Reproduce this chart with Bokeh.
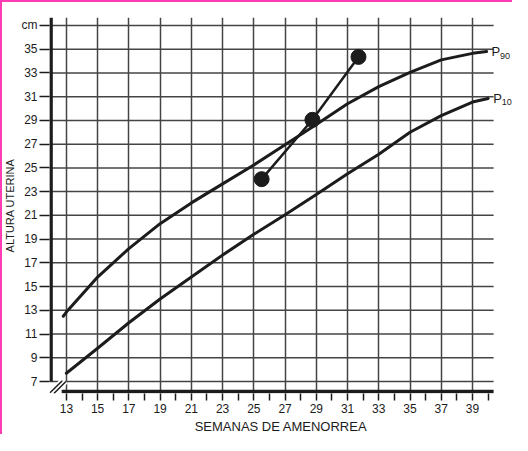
from bokeh.plotting import figure
from bokeh.models import FixedTicker, Range1d, Label, Title
from bokeh.embed import file_html
from bokeh.resources import INLINE

# ---- data ----
p90_weeks = [12.8, 13, 15, 17, 19, 21, 23, 25, 27, 29, 31, 33, 35, 37, 39, 39.9]
p90_cm = [12.5, 12.85, 15.8, 18.2, 20.3, 22.05, 23.65, 25.25, 26.95, 28.65, 30.4, 31.85, 33.05, 34.1, 34.65, 34.8]

p10_weeks = [13, 15, 17, 19, 21, 23, 25, 27, 29, 31, 33, 35, 37, 39, 40]
p10_cm = [7.7, 9.8, 11.95, 13.95, 15.8, 17.65, 19.4, 21.05, 22.75, 24.5, 26.15, 28.0, 29.4, 30.55, 30.85]

patient_weeks = [25.5, 28.75, 31.7]
patient_cm = [24.05, 29.05, 34.35]

x_ticks = list(range(13, 40, 2))
x_minor = list(range(14, 41, 2))
y_ticks = list(range(7, 38, 2))
y_overrides = {37: "cm"}

FONT = "Liberation Sans"
INK = "#1c1c1c"
GRID = "#444444"

x_range = Range1d(11.919, 41.56)
y_range = Range1d(5.99, 37.67)
grid_end = 40.35

p = figure(width=512, height=434, x_range=x_range, y_range=y_range,
           output_backend="svg", toolbar_location=None,
           min_border_left=46, min_border_right=0, min_border_top=17, min_border_bottom=40)
p.outline_line_color = None
p.background_fill_color = "white"
p.border_fill_color = None
# pink frame of the original figure (left and top edges)
p.styles = {"box-shadow": "inset 2px 2px 0 0 #ff3cb4", "background-color": "white"}

# axes
xa = p.xaxis[0]
xa.ticker = FixedTicker(ticks=x_ticks, minor_ticks=x_minor)
xa.axis_line_color = None
xa.major_tick_in = 0
xa.major_tick_out = 7
xa.minor_tick_in = 0
xa.minor_tick_out = 7
xa.major_tick_line_color = INK
xa.minor_tick_line_color = INK
xa.major_tick_line_width = 1.5
xa.minor_tick_line_width = 1.5
xa.major_label_text_font = FONT
xa.major_label_text_font_size = "12px"
xa.major_label_text_color = INK
xa.major_label_standoff = 3

p.add_layout(Title(text="SEMANAS DE AMENORREA", align="center", offset=-17, standoff=2,
                   text_font=FONT, text_font_size="13px", text_font_style="normal",
                   text_color=INK), "below")

ya = p.yaxis[0]
ya.ticker = FixedTicker(ticks=y_ticks, minor_ticks=[])
ya.major_label_overrides = y_overrides
ya.axis_line_color = None
ya.major_tick_in = 0
ya.major_tick_out = 10
ya.major_tick_line_color = INK
ya.major_tick_line_width = 1.5
ya.major_label_text_font = FONT
ya.major_label_text_font_size = "12px"
ya.major_label_text_color = INK
ya.major_label_standoff = 2
ya.axis_label = "ALTURA UTERINA"
ya.axis_label_text_font = FONT
ya.axis_label_text_font_size = "11px"
ya.axis_label_text_font_style = "normal"
ya.axis_label_text_color = INK
ya.axis_label_standoff = 3

p.xgrid[0].grid_line_color = GRID
p.xgrid[0].grid_line_width = 1.5
p.ygrid[0].grid_line_color = None

# horizontal grid lines, stopping at the end of the week scale
n = len(y_ticks)
p.segment(x0=[x_range.start] * n, y0=y_ticks, x1=[grid_end] * n, y1=y_ticks,
          line_width=1.5, line_color=GRID)

# thick axis lines (drawn inside the frame)
axis_x = x_range.start + 0.1
axis_y = y_range.start + 0.17
p.segment(x0=[axis_x], y0=[y_ticks[0]], x1=[axis_x], y1=[y_range.end], line_width=3.5, line_color=INK)
p.segment(x0=[12.7], y0=[axis_y], x1=[grid_end], y1=[axis_y], line_width=3.5, line_color=INK)

# axis break marks
p.segment(x0=[11.95, 12.2], y0=[6.05, 5.99], x1=[12.72, 12.97], y1=[7.05, 7.0], line_width=5, line_color="white")
p.segment(x0=[11.95, 12.2], y0=[6.05, 5.99], x1=[12.72, 12.97], y1=[7.05, 7.0], line_width=1.5, line_color=INK)

# percentile curves
p.line(p90_weeks, p90_cm, line_width=3, line_color=INK, line_join="round", line_cap="round")
p.line(p10_weeks, p10_cm, line_width=3, line_color=INK, line_join="round", line_cap="round")

# patient measurements
p.line(patient_weeks, patient_cm, line_width=2.5, line_color=INK)
p.scatter(patient_weeks, patient_cm, size=15, fill_color=INK, line_color=INK)

# curve labels
for wk, cm, sub in ((p90_weeks[-1], p90_cm[-1], "90"), (p10_weeks[-1], p10_cm[-1], "10")):
    p.add_layout(Label(x=wk, y=cm, text="P", x_offset=5, y_offset=0, text_baseline="middle",
                       text_font=FONT, text_font_size="13px", text_color=INK))
    p.add_layout(Label(x=wk, y=cm, text=sub, x_offset=13.5, y_offset=-4, text_baseline="middle",
                       text_font=FONT, text_font_size="9px", text_color=INK))

open("out.html", "w").write(file_html(p, INLINE))
